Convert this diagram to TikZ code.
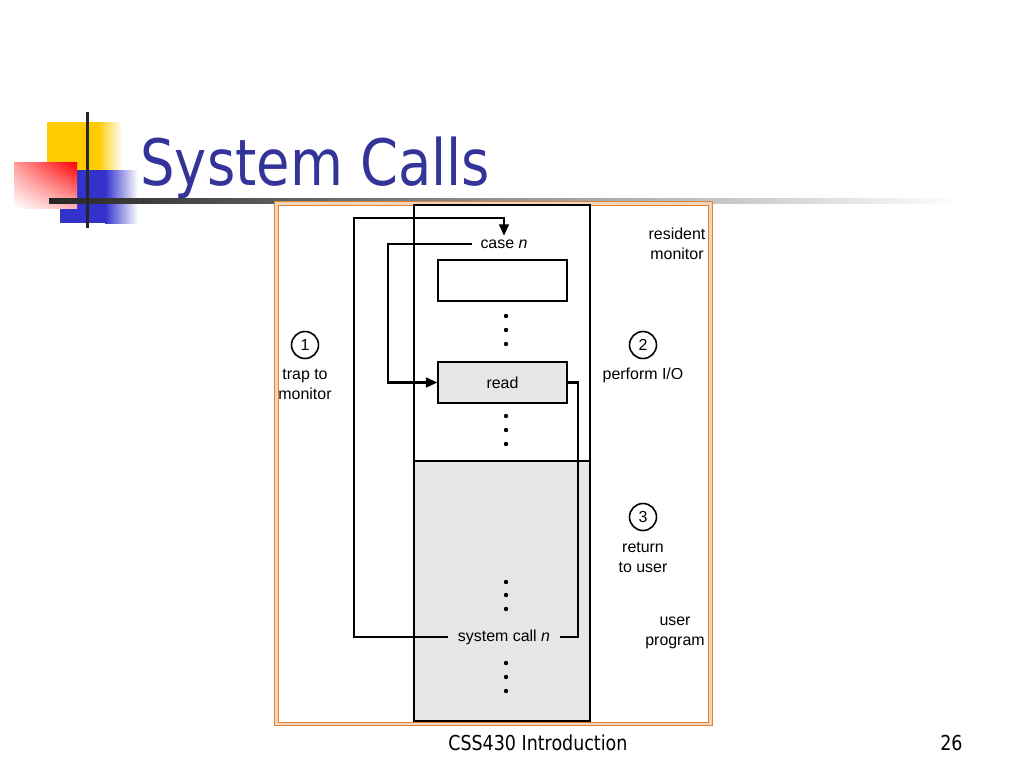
\documentclass[tikz,border=0pt]{standalone}
\usepackage{fontspec}
\setmainfont{Liberation Sans}
\newfontfamily\slidefont[FakeStretch=0.85]{DejaVu Sans}
\usepackage{xcolor}
\usetikzlibrary{arrows.meta, positioning, calc, shadings}

\definecolor{titleblue}{RGB}{51,51,153}
\definecolor{frameorange}{RGB}{222,132,58}
\definecolor{memgray}{RGB}{230,230,230}
\definecolor{logoyellow}{RGB}{255,204,0}
\definecolor{logoblue}{RGB}{51,51,204}

\begin{document}
\begin{tikzpicture}[x=0.02cm, y=-0.02cm,
    label/.style={font=\fontsize{9.07}{11.34}\selectfont, inner sep=0pt, align=center},
    numcircle/.style={circle, draw, line width=0.9pt, minimum size=0.54cm, inner sep=0pt, font=\fontsize{9.07}{11.34}\selectfont},
    memblock/.style={draw, line width=1.4pt, outer sep=0pt, anchor=north west, minimum width=3.52cm},
    codebox/.style={draw, minimum width=2.58cm, minimum height=0.82cm, font=\fontsize{9.07}{11.34}\selectfont},
    dot/.style={circle, fill, inner sep=0pt, minimum size=2.5pt},
    flow/.style={line width=1.35pt},
    >={Triangle[length=6.5pt, width=5.5pt]}
]
\useasboundingbox (0,0) rectangle (1024,768);

% Logo
\fill[logoyellow] (47,122) rectangle (98,172);
\shade[left color=logoyellow, right color=white] (98,122) rectangle (122,172);
\fill[logoblue] (60,170) rectangle (105,223);
\shade[left color=logoblue, right color=white] (105,170) rectangle (138,223);
\shade[upper left=red!40, upper right=red, lower left=white, lower right=red!30] (14,162) rectangle (77,208);
\shade[left color=black!85, middle color=black!40, right color=white] (49,198) rectangle (960,203);
\fill[black!85] (86,112) rectangle (89,228);

% Title
\node[anchor=base west, inner sep=0pt, text=titleblue, font=\slidefont\fontsize{36.4}{40}\selectfont] (title) at (140,185) {System Calls};

% Figure frame
\draw[frameorange, line width=0.6pt, double=frameorange!35, double distance=1.3pt] (276.5,203.5) rectangle (710.5,724);

% Memory
\node[memblock, minimum height=5.12cm] (residentmem) at (414,205) {};
\node[memblock, fill=memgray, minimum height=5.2cm] (usermem) at (414,461) {};

% Code
\node[label, inner xsep=4.5pt, inner ysep=2pt] (casen) at (504,244) {case \textit{n}};
\node[codebox, line width=1.5pt] (emptybox) at (502.5,280.5) {};
\node[codebox, line width=0.7pt, fill=memgray] (readbox) at (502.5,382.5) {read};
\node[label, inner xsep=5.5pt] (syscall) at (504,637) {system call \textit{n}};

% Dots
\node[dot] (d1) at (506,316) {};
\node[dot] (d2) at (506,330) {};
\node[dot] (d3) at (506,344) {};
\node[dot] (d4) at (506,416) {};
\node[dot] (d5) at (506,430) {};
\node[dot] (d6) at (506,444) {};
\node[dot] (d7) at (506,582) {};
\node[dot] (d8) at (506,595) {};
\node[dot] (d9) at (506,609) {};
\node[dot] (d10) at (506,663) {};
\node[dot] (d11) at (506,677) {};
\node[dot] (d12) at (506,691) {};

% Labels
\node[label] (resident) at (677,244) {resident\\monitor};
\node[numcircle] (step1) at (305,345) {1};
\node[label] (trap) at (305,384) {trap to\\monitor};
\node[numcircle] (step2) at (643,345) {2};
\node[label] (perform) at (643,375) {perform I/O};
\node[numcircle] (step3) at (643,517) {3};
\node[label] (return) at (643,557) {return\\to user};
\node[label] (userprog) at (675,633) {user\\program};

% Connections
\coordinate (trapcorner) at (354,218);
\coordinate (monx) at (388,300);
\coordinate (retx) at (578,500);
\draw[flow, ->] (syscall.west) -| (trapcorner) -| (casen.north);
\draw[flow, ->] (casen.west) -- (casen.west -| monx) |- (readbox.west);
\draw[flow] (readbox.east) -| (retx) |- (syscall.east);

% Footer
\node[anchor=base west, inner sep=0pt, font=\slidefont\fontsize{11.7}{13}\selectfont] (footer) at (448,750) {CSS430 Introduction};
\node[anchor=base west, inner sep=0pt, font=\slidefont\fontsize{11.7}{13}\selectfont] (pagenum) at (940,750) {26};
\end{tikzpicture}
\end{document}
